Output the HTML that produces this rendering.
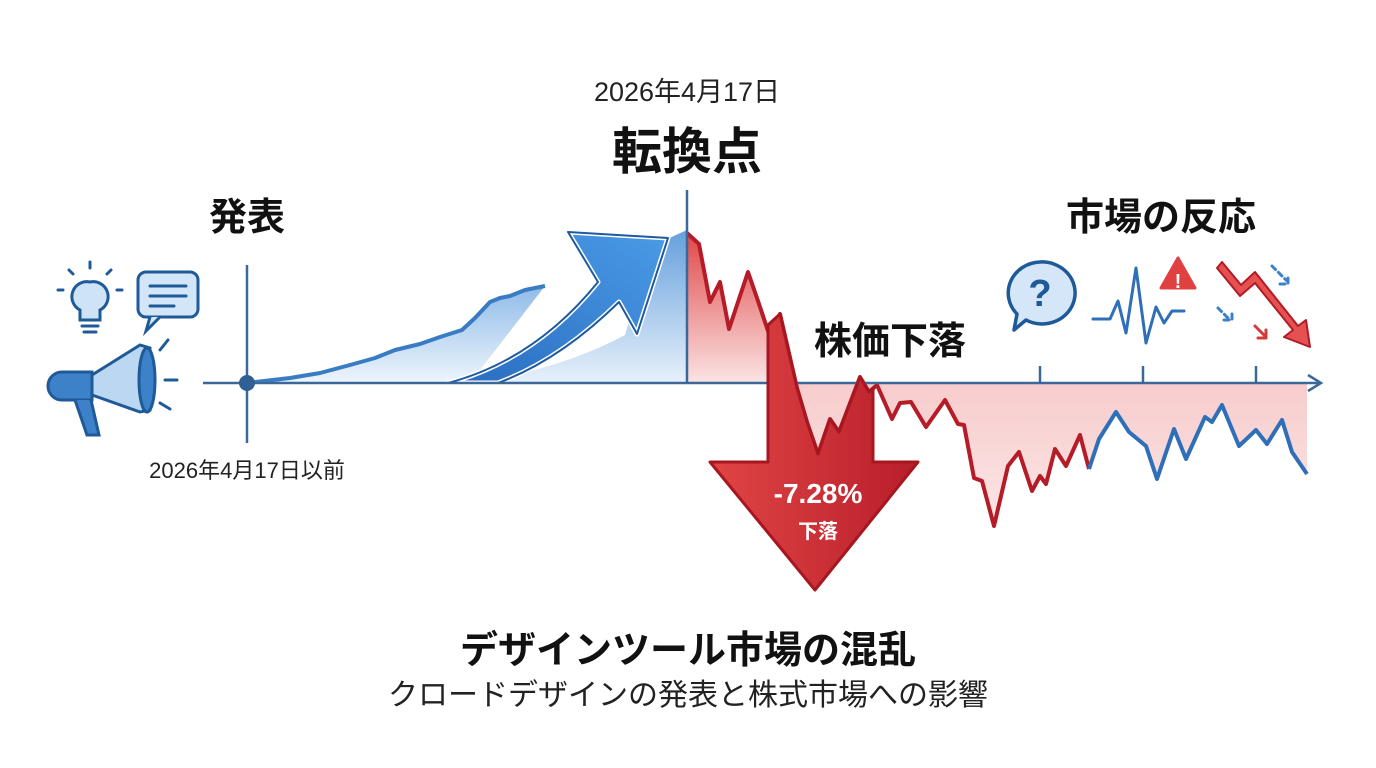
<!DOCTYPE html>
<html><head><meta charset="utf-8"><style>
html,body{margin:0;padding:0;background:#fff;}
svg{display:block;}
text{font-family:"Liberation Sans","Noto Sans CJK JP",sans-serif;}
</style></head><body>
<svg width="1376" height="768" viewBox="0 0 1376 768" xmlns="http://www.w3.org/2000/svg">
<defs>
<linearGradient id="bg" x1="0" y1="0" x2="0" y2="1"><stop offset="0" stop-color="#4a8fd6"/><stop offset="1" stop-color="#e3eefa"/></linearGradient>
<linearGradient id="bg2" x1="0" y1="0" x2="0" y2="1"><stop offset="0" stop-color="#8fbbe8"/><stop offset="1" stop-color="#eef5fc"/></linearGradient>
<linearGradient id="rg" x1="0" y1="0" x2="0" y2="1"><stop offset="0" stop-color="#e04848"/><stop offset="1" stop-color="#fbe4e4"/></linearGradient>
<linearGradient id="rg2" x1="0" y1="0" x2="0" y2="1"><stop offset="0" stop-color="#f4b0b0"/><stop offset="1" stop-color="#fbe6e6"/></linearGradient>
<linearGradient id="ra" x1="0" y1="0" x2="1" y2="0"><stop offset="0" stop-color="#e04545"/><stop offset="1" stop-color="#b81e2a"/></linearGradient>
<linearGradient id="ba" x1="0" y1="1" x2="1" y2="0"><stop offset="0" stop-color="#2a6cc0"/><stop offset="1" stop-color="#4a9be6"/></linearGradient>
</defs>

<!-- texts -->
<text x="687" y="101" font-size="27" text-anchor="middle" fill="#222">2026年4月17日</text>
<text x="687" y="169" font-size="50" font-weight="bold" text-anchor="middle" fill="#111">転換点</text>
<text x="247" y="230" font-size="38" font-weight="bold" text-anchor="middle" fill="#111">発表</text>
<text x="1161" y="230" font-size="38" font-weight="bold" text-anchor="middle" fill="#111">市場の反応</text>
<text x="890" y="354" font-size="38" font-weight="bold" text-anchor="middle" fill="#111">株価下落</text>
<text x="247" y="478" font-size="22" text-anchor="middle" fill="#222">2026年4月17日以前</text>
<text x="688" y="663" font-size="38" font-weight="bold" text-anchor="middle" fill="#111">デザインツール市場の混乱</text>
<text x="688" y="705" font-size="30" text-anchor="middle" fill="#222">クロードデザインの発表と株式市場への影響</text>

<!-- blue areas -->
<path d="M247,383 L290,378 L320,373 L350,365 L375,358 L395,350 L420,344 L440,337 L462,330 L475,318 L490,302 L500,298 L510,296 L525,290 L545,286 L470,383 Z" fill="url(#bg2)"/>
<path d="M247,383 L290,378 L320,373 L350,365 L375,358 L395,350 L420,344 L440,337 L462,330 L475,318 L490,302 L500,298 L510,296 L525,290 L545,286" fill="none" stroke="#3a7cc4" stroke-width="4" stroke-linejoin="round"/>
<path d="M470,383 Q560,370 625,335 L632,312 L665,240 L687,230 L687,383 Z" fill="url(#bg)" opacity="0.85"/>
<!-- big blue arrow -->
<path d="M448,383 Q535,360 598,282 L568,232 L668,238 L637,334 L619,302 Q560,360 498,383 Z" fill="url(#ba)" stroke="#fff" stroke-width="5" stroke-linejoin="round"/>
<path d="M448,383 Q535,360 598,282 L568,232 L668,238 L637,334 L619,302 Q560,360 498,383 Z" fill="none" stroke="#1e5aa0" stroke-width="2" stroke-linejoin="round"/>

<!-- red area -->
<path d="M687,383 L687,233 L699,244 L710,302 L720,282 L729,329 L748,272 L758,301 L769,334 L780,314 L797,388 L807,422 L818,454 L830,419 L839,432 L860,377 L869,392 L877,385 L892,419 L900,403 L911,402 L926,427 L945,400 L958,424 L964,425 L974,478 L982,481 L994,526 L1008,466 L1019,452 L1032,491 L1040,476 L1046,484 L1055,449 L1066,466 L1080,435 L1089,469 L1099,439 L1116,412 L1129,432 L1146,446 L1157,479 L1174,429 L1186,459 L1205,417 L1212,422 L1222,405 L1239,446 L1256,430 L1267,444 L1282,420 L1292,452 L1307,474 L1307,383 Z" fill="url(#rg2)"/>
<path d="M687,383 L687,233 L699,244 L710,302 L720,282 L729,329 L748,272 L758,301 L769,334 L780,314 L797,383 Z" fill="url(#rg)"/>
<path d="M687,233 L699,244 L710,302 L720,282 L729,329 L748,272 L758,301 L769,334 L780,314 L797,388 L807,422 L818,454 L830,419 L839,432 L860,377 L869,392 L877,385 L892,419 L900,403 L911,402 L926,427 L945,400 L958,424 L964,425 L974,478 L982,481 L994,526 L1008,466 L1019,452 L1032,491 L1040,476 L1046,484 L1055,449 L1066,466 L1080,435 L1089,469" fill="none" stroke="#b51c28" stroke-width="4" stroke-linejoin="round"/>
<path d="M1089,469 L1099,439 L1116,412 L1129,432 L1146,446 L1157,479 L1174,429 L1186,459 L1205,417 L1212,422 L1222,405 L1239,446 L1256,430 L1267,444 L1282,420 L1292,452 L1307,474" fill="none" stroke="#2f6fb8" stroke-width="4" stroke-linejoin="round"/>

<!-- axes -->
<line x1="203" y1="383" x2="1320" y2="383" stroke="#3a6898" stroke-width="2.5"/>
<path d="M1308,375 L1321,383 L1308,391" fill="none" stroke="#3a6898" stroke-width="2.5"/>
<line x1="247" y1="265" x2="247" y2="443" stroke="#3a6898" stroke-width="2.5"/>
<circle cx="247" cy="383" r="8" fill="#2f5f95"/>
<line x1="687" y1="190" x2="687" y2="383" stroke="#3a6898" stroke-width="2.5"/>
<line x1="1040" y1="366" x2="1040" y2="383" stroke="#3a6898" stroke-width="2.5"/>
<line x1="1143" y1="366" x2="1143" y2="383" stroke="#3a6898" stroke-width="2.5"/>
<line x1="1256" y1="366" x2="1256" y2="383" stroke="#3a6898" stroke-width="2.5"/>

<!-- red down arrow -->
<path d="M768,325 L780,314 L797,388 L807,422 L818,454 L830,419 L839,432 L860,377 L869,392 L873,388 L873,462 L918,462 L815,590 L710,462 L768,462 Z" fill="url(#ra)" stroke="#a8161f" stroke-width="3" stroke-linejoin="round"/>
<text x="818" y="503" font-size="28" font-weight="bold" text-anchor="middle" fill="#fff">-7.28%</text>
<text x="818" y="538" font-size="20" font-weight="bold" text-anchor="middle" fill="#fff">下落</text>

<!-- left icons -->
<g stroke="#1f5a98" stroke-width="3" stroke-linecap="round" fill="none">
<path d="M90,282 a15,15 0 0 1 10,28 v10 h-20 v-10 a15,15 0 0 1 10,-28 z" fill="#cfe3f6"/>
<path d="M82,326 h16 M84,332 h12"/>
<path d="M90,268 v-6 M73,274 l-4,-4 M107,274 l4,-4 M63,290 h-5 M117,290 h5"/>
<rect x="138" y="272" width="60" height="45" rx="8" fill="#d3e6f7"/>
<path d="M150,317 l-4,14 l14,-14" fill="#d3e6f7"/>
<path d="M150,286 h36 M150,296 h36 M150,306 h24"/>
<path d="M92,375 L140,345 L150,348 L150,410 L140,412 L92,395 Z" fill="#bcd7f1"/>
<path d="M62,372 h30 v28 h-30 a14,14 0 0 1 0,-28z" fill="#3d82c9"/>
<path d="M75,400 l12,35 h12 l-8,-35" fill="#3d82c9"/>
<ellipse cx="147" cy="380" rx="8" ry="32" fill="#3d82c9"/>
<path d="M160,350 l8,-10 M165,380 h12 M160,403 l10,6"/>
</g>

<!-- right icons -->
<g stroke-linecap="round" stroke-linejoin="round">
<path d="M1040,262 a33,31 0 1 1 -14,58 l-12,10 l3,-16 a33,31 0 0 1 23,-52z" fill="#d4e6f7" stroke="#1f5a98" stroke-width="3.5"/>
<text x="1040" y="306" font-size="38" font-weight="bold" text-anchor="middle" fill="#1f5a98">?</text>
<path d="M1093,319 h17 l8,-18 l8,32 l10,-65 l10,75 l10,-36 l8,16 l8,-12 h12" fill="none" stroke="#2f6fb8" stroke-width="3"/>
<path d="M1178,258 l-17,30 h34 z" fill="#e04040" stroke="#e04040" stroke-width="3"/>
<text x="1178" y="288" font-size="20" font-weight="bold" text-anchor="middle" fill="#fff">!</text>
<path d="M1217,268 L1240,296 L1255,283 L1293,330 L1284,337 L1310,347 L1306,320 L1298,326 L1255,272 L1241,285 L1222,262 Z" fill="#e65050" stroke="#b01c26" stroke-width="2"/>
<path d="M1272,266 l15,15 M1280,284 h8 v-8 M1218,308 l12,12 M1224,320 h8 v-8" fill="none" stroke="#3d82c9" stroke-width="3" stroke-dasharray="5,4"/>
<path d="M1255,326 l10,10 M1258,338 h8 v-8" fill="none" stroke="#d43a3a" stroke-width="3"/>
</g>
</svg>
</body></html>
